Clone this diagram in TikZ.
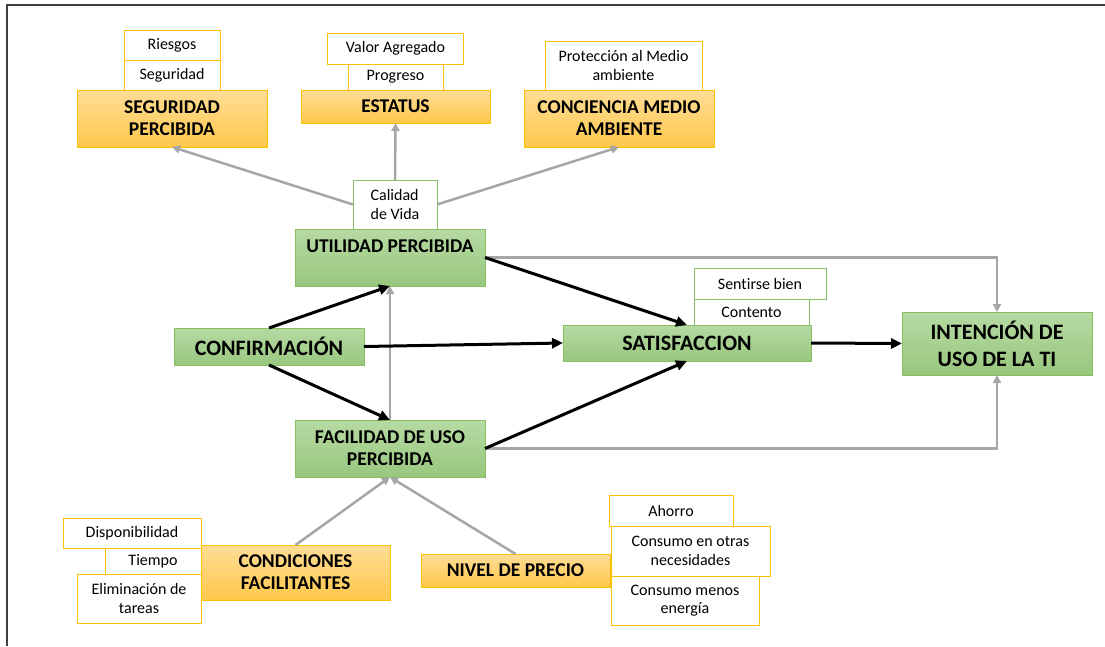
\documentclass[tikz,border=0pt]{standalone}
\usepackage{fontspec}
\setmainfont{Carlito}[Ligatures=NoCommon]
\usetikzlibrary{arrows.meta,positioning,calc}
\definecolor{gold}{HTML}{FFC000}
\definecolor{goldtop}{HTML}{FFDD96}
\definecolor{goldbot}{HTML}{FFC84B}
\definecolor{leaf}{HTML}{86BF63}
\definecolor{leaftop}{HTML}{B6DAA3}
\definecolor{leafbot}{HTML}{98C77E}
\definecolor{arrgray}{HTML}{A6A6A6}

\begin{document}
\begin{tikzpicture}[x=1pt, y=-1pt,
  orng/.style={draw=gold, line width=1pt, top color=goldtop, bottom color=goldbot, inner sep=0pt, outer sep=0pt, align=center, font=\bfseries\fontsize{19.5}{22}\selectfont},
  grn/.style={orng, draw=leaf, top color=leaftop, bottom color=leafbot},
  big/.style={font=\bfseries\fontsize{22}{27}\selectfont},
  attr/.style={draw=gold, line width=1pt, fill=white, inner sep=0pt, outer sep=0pt, align=center, font=\fontsize{16}{18.5}\selectfont},
  attrg/.style={attr, draw=leaf},
  gline/.style={draw=arrgray, line width=2.5pt, -{Triangle[length=8pt,width=8pt]}},
  bline/.style={line width=3pt, -{Triangle[length=11pt,width=10pt]}}]
  \useasboundingbox (0,0) rectangle (1105,646);
  \draw[line width=2pt, black!75] (7,646) -- (7,5) -- (1105,5);

  \node[orng, minimum width=190pt, minimum height=57pt] (seg) at (172,118.5) {SEGURIDAD\\PERCIBIDA};
  \node[attr, minimum width=96pt, minimum height=30pt, above=0pt of seg] (segu) {Seguridad};
  \node[attr, minimum width=96pt, minimum height=30pt, above=0pt of segu] (ries) {Riesgos};
  \node[orng, minimum width=189pt, minimum height=33pt] (est) at (395.5,106.5) {ESTATUS};
  \node[attr, minimum width=95pt, minimum height=26pt, above=0pt of est] (prog) {Progreso};
  \node[attr, minimum width=136pt, minimum height=31pt, above=0pt of prog] (valor) {Valor Agregado};
  \node[orng, minimum width=190pt, minimum height=57pt] (conc) at (619,118.5) {CONCIENCIA MEDIO\\AMBIENTE};
  \node[attr, minimum width=157pt, minimum height=49pt, above=0pt of conc, xshift=4.5pt] (prot) {Protección al Medio\\ambiente};

  \node[grn, minimum width=190pt, minimum height=57pt] (util) at (390,257.5) {UTILIDAD PERCIBIDA\\\mbox{}};
  \node[attrg, minimum width=84pt, minimum height=49pt, above=0pt of util, xshift=5pt, align=left] (cal) {Calidad\\de Vida};
  \node[grn, big, minimum width=190pt, minimum height=37pt] (conf) at (269,346.5) {CONFIRMACIÓN};
  \node[grn, minimum width=190pt, minimum height=57pt] (facil) at (390,448.5) {FACILIDAD DE USO\\PERCIBIDA};
  \node[grn, big, minimum width=248pt, minimum height=36pt] (sat) at (687,343) {SATISFACCION};
  \node[attrg, minimum width=115pt, minimum height=26pt, anchor=south west] (cont) at ($(sat.north west)+(131,0)$) {Contento};
  \node[attrg, minimum width=132pt, minimum height=31pt, anchor=south west] (sent) at (cont.north west) {Sentirse bien};
  \node[grn, big, minimum width=190pt, minimum height=63pt] (intn) at (997,343.5) {INTENCIÓN DE\\USO DE LA TI};

  \node[orng, minimum width=189pt, minimum height=55pt] (cond) at (295.5,572.5) {CONDICIONES\\FACILITANTES};
  \node[attr, minimum width=138pt, minimum height=30pt, anchor=north east] (disp) at ($(cond.north west)+(0,-27)$) {Disponibilidad};
  \node[attr, minimum width=96pt, minimum height=26pt, anchor=north east] (tiem) at (disp.south east) {Tiempo};
  \node[attr, minimum width=124pt, minimum height=49pt, anchor=north east] (elim) at (tiem.south east) {Eliminación de\\tareas};
  \node[orng, minimum width=189pt, minimum height=33pt] (prec) at (515.5,570.5) {NIVEL DE PRECIO};
  \node[attr, minimum width=159pt, minimum height=50pt, anchor=north west] (cons) at ($(prec.north east)+(1,-28)$) {Consumo en otras\\necesidades};
  \node[attr, minimum width=124pt, minimum height=31pt, anchor=south west] (aho) at ($(cons.north west)+(-2,0)$) {Ahorro};
  \node[attr, minimum width=148pt, minimum height=49pt, anchor=north west] (menos) at (cons.south west) {Consumo menos\\energía};

  \draw[gline] (cal.west) -- (seg.south);
  \draw[gline] (cal.north) -- (est.south);
  \draw[gline] (cal.east) -- (conc.south);
  \draw[gline] (facil.north) -- (util.south);
  \draw[gline] (util.east) -| (intn.north);
  \draw[gline] (facil.east) -| (intn.south);
  \draw[gline] (cond.north) -- (facil.south);
  \draw[gline] (prec.north) -- (facil.south);
  \draw[bline] (conf.north) -- (util.south);
  \draw[bline] (conf.south) -- (facil.north);
  \draw[bline] (conf.east) -- (sat.west);
  \draw[bline] (util.east) -- (sat.north);
  \draw[bline] (facil.east) -- (sat.south);
  \draw[bline] (sat.east) -- (intn.west);
\end{tikzpicture}
\end{document}
